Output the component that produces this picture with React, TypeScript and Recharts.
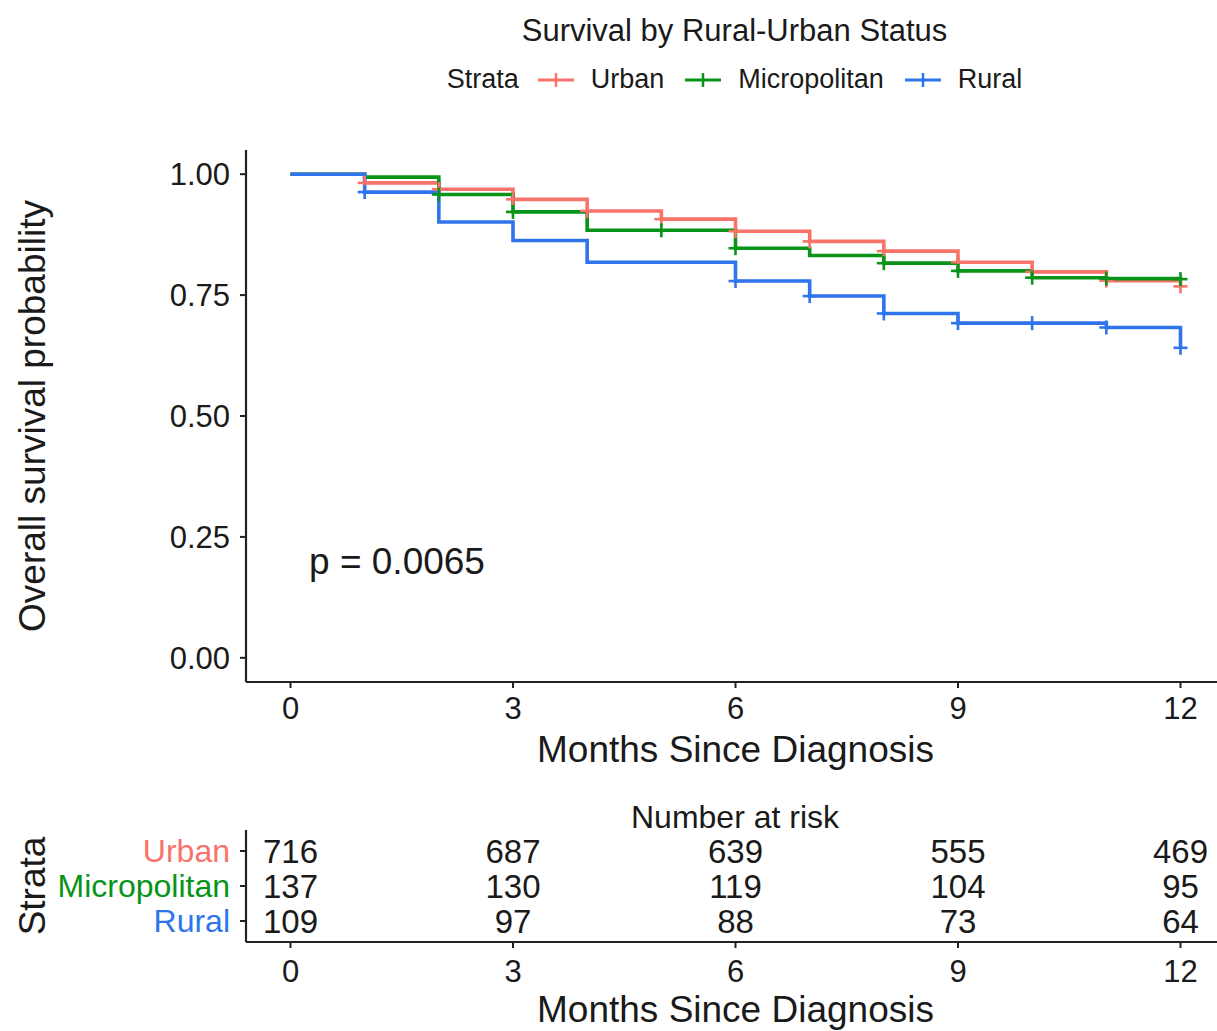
import React from 'react';
import {
  LineChart,
  Line,
  XAxis,
  YAxis,
  ReferenceDot,
  ScatterChart,
  Scatter,
} from 'recharts';

// ---- survival estimates (Kaplan-Meier, monthly steps) ----
const months = [0, 1, 2, 3, 4, 5, 6, 7, 8, 9, 10, 11, 12];
const urbanSurvival = [1.0, 0.982, 0.969, 0.948, 0.924, 0.907, 0.882, 0.861, 0.841, 0.818, 0.798, 0.78, 0.768];
const micropolitanSurvival = [1.0, 0.994, 0.958, 0.922, 0.884, 0.884, 0.847, 0.832, 0.816, 0.8, 0.786, 0.784, 0.783];
const ruralSurvival = [1.0, 0.963, 0.901, 0.863, 0.818, 0.818, 0.779, 0.748, 0.712, 0.692, 0.692, 0.683, 0.641];

// months with censored observations
const urbanCensored = [1, 2, 3, 4, 5, 6, 7, 8, 9, 10, 11, 12];
const micropolitanCensored = [2, 3, 5, 6, 8, 9, 10, 11, 12];
const ruralCensored = [1, 6, 7, 8, 9, 10, 11, 12];

// ---- number at risk ----
const riskMonths = [0, 3, 6, 9, 12];
const urbanAtRisk = [716, 687, 639, 555, 469];
const micropolitanAtRisk = [137, 130, 119, 104, 95];
const ruralAtRisk = [109, 97, 88, 73, 64];

// ---- axes / labels ----
const monthTicks = [0, 3, 6, 9, 12];
const survivalTicks = [0, 0.25, 0.5, 0.75, 1];
const strataNames = ['Urban', 'Micropolitan', 'Rural'];
const strataColors = ['#F8736A', '#079418', '#2F74EC'];
const strataRows = [3, 2, 1];
const pValueText = 'p = 0.0065';

const FONT = '"Liberation Sans", Arial, Helvetica, sans-serif';
const INK = '#1a1a1a';
const AXIS = '#222';

const survivalData = months.map((m, i) => ({
  month: m,
  Urban: urbanSurvival[i],
  Micropolitan: micropolitanSurvival[i],
  Rural: ruralSurvival[i],
}));

const atRiskSeries = [urbanAtRisk, micropolitanAtRisk, ruralAtRisk].map((counts, s) =>
  riskMonths.map((m, i) => ({ month: m, row: strataRows[s], n: counts[i] }))
);

const censoredBy: Record<string, number[]> = {
  Urban: urbanCensored,
  Micropolitan: micropolitanCensored,
  Rural: ruralCensored,
};

const censorMark = (key: string, color: string) => (props: any) => {
  const { cx, cy, payload, index } = props;
  if (cx == null || cy == null || !censoredBy[key].includes(payload.month)) {
    return <g key={`${key}-c-${index}`} />;
  }
  const a = 7;
  return (
    <g key={`${key}-c-${index}`}>
      <line x1={cx - a} x2={cx + a} y1={cy} y2={cy} stroke={color} strokeWidth={2.6} />
      <line x1={cx} x2={cx} y1={cy - a} y2={cy + a} stroke={color} strokeWidth={2.6} />
    </g>
  );
};

const yTitle = (text: string) => (props: any) => {
  const vb = props.viewBox || {};
  const x = (vb.x || 0) + 32;
  const y = (vb.y || 0) + (vb.height || 0) / 2;
  return (
    <text
      x={x}
      y={y}
      transform={`rotate(-90 ${x} ${y})`}
      textAnchor="middle"
      dominantBaseline="central"
      fontSize={37}
      fontFamily={FONT}
      fill={INK}
    >
      {text}
    </text>
  );
};

const xTitle = (text: string, baselineOffset: number) => (props: any) => {
  const vb = props.viewBox || {};
  const x = (vb.x || 0) + (vb.width || 0) / 2;
  const y = (vb.y || 0) + baselineOffset;
  return (
    <text x={x} y={y} textAnchor="middle" fontSize={37} fontFamily={FONT} fill={INK}>
      {text}
    </text>
  );
};

const LegendKey = ({ color }: { color: string }) => (
  <svg width={38} height={20} style={{ display: 'block' }}>
    <line x1={1} x2={37} y1={10} y2={10} stroke={color} strokeWidth={3} />
    <line x1={19} x2={19} y1={3} y2={17} stroke={color} strokeWidth={2.5} />
  </svg>
);

export default function App() {
  return (
    <div
      style={{
        position: 'absolute',
        left: 0,
        top: 0,
        width: 1217,
        height: 1031,
        background: '#fff',
        fontFamily: FONT,
        overflow: 'hidden',
      }}
    >
      {/* title */}
      <div
        style={{
          position: 'absolute',
          left: 0,
          top: 15,
          width: 1469,
          textAlign: 'center',
          fontSize: 31,
          lineHeight: '31px',
          color: INK,
        }}
      >
        Survival by Rural-Urban Status
      </div>

      {/* legend */}
      <div
        style={{
          position: 'absolute',
          left: 0,
          top: 66,
          width: 1469,
          display: 'flex',
          justifyContent: 'center',
          alignItems: 'center',
          fontSize: 27,
          lineHeight: '27px',
          color: INK,
        }}
      >
        <span style={{ marginRight: 18 }}>Strata</span>
        {strataNames.map((name, i) => (
          <React.Fragment key={name}>
            <LegendKey color={strataColors[i]} />
            <span style={{ marginLeft: 16, marginRight: i < strataNames.length - 1 ? 20 : 0 }}>{name}</span>
          </React.Fragment>
        ))}
      </div>

      {/* survival curves */}
      <div style={{ position: 'absolute', left: 0, top: 0 }}>
        <LineChart
          width={1217}
          height={770}
          data={survivalData}
          margin={{ top: 150, right: -8, left: 0, bottom: 0 }}
        >
          <XAxis
            dataKey="month"
            type="number"
            domain={[-0.6, 12.6]}
            ticks={monthTicks}
            allowDataOverflow
            height={88}
            tickSize={6}
            tickMargin={9}
            axisLine={{ stroke: AXIS, strokeWidth: 2.2 }}
            tickLine={{ stroke: AXIS, strokeWidth: 2 }}
            tick={{ fontSize: 31, fill: INK, fontFamily: FONT }}
            label={xTitle('Months Since Diagnosis', 80)}
          />
          <YAxis
            type="number"
            domain={[-0.05, 1.05]}
            ticks={survivalTicks}
            allowDataOverflow
            width={246}
            tickSize={6}
            tickMargin={10}
            tickFormatter={(v: number) => v.toFixed(2)}
            axisLine={{ stroke: AXIS, strokeWidth: 2.2 }}
            tickLine={{ stroke: AXIS, strokeWidth: 2 }}
            tick={{ fontSize: 31, fill: INK, fontFamily: FONT }}
            label={yTitle('Overall survival probability')}
          />
          {strataNames.map((name, i) => (
            <Line
              key={name}
              type="stepAfter"
              dataKey={name}
              stroke={strataColors[i]}
              strokeWidth={3.6}
              dot={censorMark(name, strataColors[i])}
              activeDot={false}
              isAnimationActive={false}
            />
          ))}
          <ReferenceDot
            x={0.25}
            y={0.2}
            r={0}
            shape={(p: any) => (
              <text
                x={p.cx}
                y={p.cy}
                dominantBaseline="central"
                fontSize={37}
                fontFamily={FONT}
                fill={INK}
              >
                {pValueText}
              </text>
            )}
          />
        </LineChart>
      </div>

      {/* number at risk heading */}
      <div
        style={{
          position: 'absolute',
          left: 0,
          top: 801,
          width: 1470,
          textAlign: 'center',
          fontSize: 32,
          lineHeight: '32px',
          color: INK,
        }}
      >
        Number at risk
      </div>

      {/* risk table */}
      <div style={{ position: 'absolute', left: 0, top: 790 }}>
        <ScatterChart width={1217} height={241} margin={{ top: 40, right: -8, left: 0, bottom: 0 }}>
          <XAxis
            dataKey="month"
            type="number"
            domain={[-0.6, 12.6]}
            ticks={monthTicks}
            allowDataOverflow
            height={89}
            tickSize={6}
            tickMargin={12}
            axisLine={{ stroke: AXIS, strokeWidth: 2.2 }}
            tickLine={{ stroke: AXIS, strokeWidth: 2 }}
            tick={{ fontSize: 31, fill: INK, fontFamily: FONT }}
            label={xTitle('Months Since Diagnosis', 80)}
          />
          <YAxis
            dataKey="row"
            type="number"
            domain={[0.4, 3.6]}
            ticks={strataRows}
            allowDataOverflow
            width={246}
            tickSize={6}
            tickMargin={10}
            axisLine={{ stroke: AXIS, strokeWidth: 2.2 }}
            tickLine={{ stroke: AXIS, strokeWidth: 2 }}
            tick={(p: any) => {
              const idx = strataRows.indexOf(p.payload.value);
              return (
                <text
                  key={`rt-${p.payload.value}`}
                  x={p.x}
                  y={p.y}
                  textAnchor="end"
                  dominantBaseline="central"
                  fontSize={32}
                  fontFamily={FONT}
                  fill={strataColors[idx]}
                >
                  {strataNames[idx]}
                </text>
              );
            }}
            label={yTitle('Strata')}
          />
          {atRiskSeries.map((series, s) => (
            <Scatter
              key={strataNames[s]}
              data={series}
              isAnimationActive={false}
              shape={(p: any) => (
                <text
                  x={p.cx}
                  y={p.cy}
                  textAnchor="middle"
                  dominantBaseline="central"
                  fontSize={33}
                  fontFamily={FONT}
                  fill={INK}
                >
                  {p.payload.n}
                </text>
              )}
            />
          ))}
        </ScatterChart>
      </div>
    </div>
  );
}
